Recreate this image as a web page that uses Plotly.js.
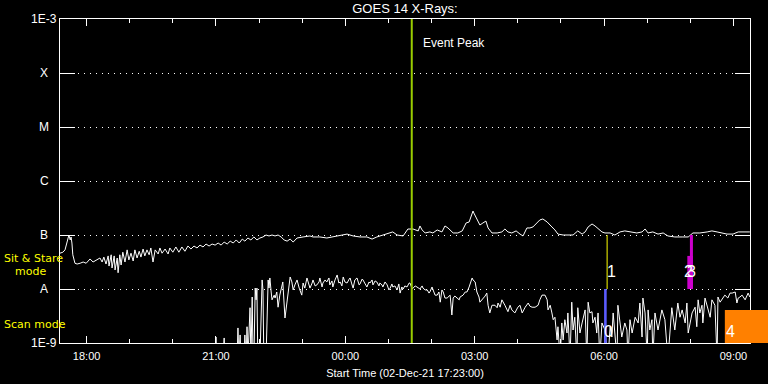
<!DOCTYPE html>
<html>
<head>
<meta charset="utf-8">
<script src="https://cdn.plot.ly/plotly-3.0.1.min.js"></script>
<style>html,body{margin:0;padding:0;background:#000;}#chart{width:768px;height:384px;}</style>
</head>
<body>
<div id="chart"></div>
<script>
// Times are decimal hours counted from 00:00 on 02-Dec-2021 (values > 24 are on 03-Dec)
// Fluxes are in units of 1e-9 W m^-2
const upperHours = [17.38,17.45,17.50,17.54,17.57,17.59,17.62,17.64,17.66,17.68,17.73,17.78,17.85,17.92,17.99,18.08,18.15,18.22,18.31,18.36,18.40,18.45,18.50,18.52,18.57,18.59,18.64,18.66,18.71,18.73,18.77,18.80,18.84,18.89,18.94,18.98,19.03,19.08,19.12,19.17,19.22,19.26,19.31,19.35,19.40,19.45,19.49,19.54,19.59,19.66,19.70,19.75,19.82,19.89,19.93,20.00,20.07,20.14,20.21,20.28,20.35,20.42,20.49,20.56,20.63,20.70,20.77,20.84,20.91,20.98,21.05,21.12,21.19,21.26,21.33,21.40,21.47,21.54,21.61,21.67,21.74,21.81,21.88,21.95,22.02,22.09,22.16,22.23,22.30,22.37,22.44,22.51,22.58,22.65,22.72,22.79,22.88,23.02,23.18,23.25,23.41,23.57,23.71,23.88,24.04,24.18,24.34,24.50,24.62,24.73,24.87,25.04,25.10,25.20,25.34,25.45,25.57,25.69,25.73,25.78,25.85,25.96,26.03,26.13,26.24,26.31,26.38,26.50,26.61,26.71,26.80,26.87,26.96,26.98,27.05,27.12,27.19,27.26,27.31,27.40,27.52,27.63,27.70,27.77,27.86,27.96,28.05,28.12,28.21,28.28,28.35,28.44,28.51,28.58,28.68,28.79,28.86,28.93,29.05,29.28,29.39,29.49,29.56,29.63,29.72,29.79,29.86,29.95,30.02,30.14,30.25,30.37,30.48,30.65,30.76,30.88,30.95,31.02,31.13,31.25,31.37,31.48,31.64,31.81,31.95,32.06,32.22,32.39,32.50,32.62,32.73,32.85,32.99,33.11,33.38];
const upperFlux = [46,48,53,71,96,100,81,92,71,43,30,29,30,31.6,30,36,31.6,34.5,37.5,31.6,39,29,41,26.6,43,24.5,41,22.5,37.5,20,43,27.8,48,31.6,53,34.5,46,33,53,37.5,50,39,55,41,53,43,57.5,31.6,53,44.5,57.5,46,55,44.5,57.5,48,60,48,60,50,62.5,55,62.5,57.5,65,60,68,62.5,68,65,71,65,74,68,77,71,81,71,84,77,88,81,92,81,88,92,100,96,100,96,100,92,81,77,84,74,88,92,96,92,92,88,92,100,104,96,92,92,84,92,100,109,114,100,96,129,129,119,147,124,109,114,109,124,114,147,135,109,109,119,167,174,278,255,190,153,167,181,135,109,109,114,129,114,109,119,104,96,135,135,141,167,190,198,174,141,124,104,100,100,119,104,114,141,160,147,129,114,109,109,100,114,119,114,109,114,129,109,114,104,109,96,92,92,92,109,109,114,119,114,109,104,104,114,114];

const lowerHours = [20.63,20.98,21.00,21.02,21.16,21.19,21.21,21.49,21.51,21.53,21.56,21.58,21.65,21.67,21.70,21.72,21.74,21.77,21.79,21.81,21.84,21.86,21.88,21.91,21.93,21.95,21.97,22.02,22.07,22.09,22.11,22.16,22.21,22.23,22.25,22.28,22.30,22.35,22.37,22.41,22.44,22.48,22.53,22.55,22.60,22.65,22.69,22.72,22.76,22.79,22.83,22.88,22.93,22.95,22.99,23.02,23.06,23.11,23.16,23.18,23.23,23.25,23.30,23.34,23.39,23.41,23.46,23.48,23.53,23.57,23.62,23.64,23.69,23.71,23.76,23.81,23.85,23.88,23.92,23.95,23.99,24.04,24.09,24.11,24.15,24.18,24.22,24.27,24.32,24.34,24.39,24.41,24.46,24.50,24.55,24.57,24.62,24.64,24.69,24.73,24.78,24.80,24.85,24.87,24.92,24.97,25.01,25.04,25.08,25.10,25.15,25.20,25.24,25.27,25.31,25.34,25.38,25.43,25.48,25.50,25.55,25.57,25.62,25.66,25.71,25.73,25.78,25.80,25.85,25.90,25.94,25.96,26.01,26.03,26.08,26.13,26.17,26.20,26.24,26.27,26.31,26.36,26.41,26.43,26.47,26.50,26.54,26.59,26.64,26.66,26.71,26.73,26.78,26.82,26.87,26.89,26.94,26.96,27.01,27.05,27.10,27.12,27.17,27.19,27.24,27.28,27.31,27.35,27.40,27.42,27.47,27.52,27.54,27.59,27.63,27.70,27.77,27.82,27.86,27.93,28.00,28.05,28.10,28.17,28.24,28.28,28.33,28.40,28.47,28.51,28.56,28.63,28.68,28.70,28.75,28.79,28.82,28.86,28.91,28.93,28.98,29.02,29.05,29.09,29.14,29.16,29.21,29.25,29.28,29.32,29.37,29.39,29.44,29.49,29.56,29.60,29.63,29.67,29.72,29.74,29.79,29.83,29.86,29.90,29.95,30.02,30.09,30.14,30.18,30.21,30.25,30.30,30.32,30.37,30.41,30.48,30.53,30.55,30.60,30.65,30.72,30.79,30.83,30.88,30.90,30.95,31.00,31.02,31.06,31.11,31.13,31.18,31.25,31.34,31.41,31.48,31.57,31.64,31.71,31.76,31.81,31.88,31.92,31.95,32.04,32.11,32.15,32.18,32.22,32.27,32.29,32.34,32.41,32.46,32.50,32.57,32.62,32.64,32.69,32.73,32.80,32.87,32.92,32.97,33.04,33.08,33.11,33.15,33.20,33.27,33.34,33.38];
const lowerFlux = [0.5,0.5,1.29,0.5,0.5,1.24,0.5,0.5,1.9,0.5,1.41,0.5,0.5,1.41,0.5,2.0,0.5,2.7,4.5,0.5,7.1,0.5,0.5,10.4,6.3,10.4,0.5,0.5,14.7,9.6,0.5,0.5,14.7,10.4,16.0,8.8,6.3,7.7,6.8,8.8,4.6,7.7,11.9,13.5,2.9,6.8,11.9,16.7,13.5,9.6,11.9,14.7,10.4,9.6,7.7,12.9,10.4,16.0,10.9,10.4,12.9,14.7,11.4,11.9,13.5,16.0,10.9,12.9,14.7,13.5,16.0,11.9,14.1,10.9,14.7,18.2,12.9,13.5,11.4,16.7,13.5,12.9,15.3,16.0,12.4,10.4,14.7,16.0,11.9,12.4,15.3,14.7,12.4,10.9,13.5,12.9,14.7,11.9,14.1,13.5,11.4,12.9,11.9,10.9,13.5,11.9,9.6,10.4,12.4,10.9,11.4,9.6,12.4,8.4,10.9,10.0,11.4,10.9,12.9,12.9,10.0,10.4,11.4,10.9,10.0,10.0,11.4,10.4,9.6,9.6,8.4,8.8,10.9,9.6,7.7,7.7,8.8,5.7,9.6,8.8,6.8,6.8,7.4,7.7,3.3,6.8,7.4,6.8,6.3,7.1,7.7,7.7,8.8,8.8,10.9,11.9,16.0,14.7,13.5,8.8,7.1,5.7,6.3,6.8,7.4,8.4,5.0,3.6,5.0,5.0,5.0,4.5,5.5,4.6,6.3,5.0,3.8,5.0,4.1,3.6,4.6,5.0,3.6,4.6,5.5,4.8,4.6,4.6,5.0,6.3,7.7,7.7,6.3,4.1,5.0,3.6,2.7,3.0,1.14,2.0,0.5,2.35,1.14,2.7,1.53,3.6,0.5,5.7,1.74,3.0,0.5,4.5,1.53,2.35,4.1,0.5,5.7,3.6,3.8,2.35,3.0,1.53,3.6,0.5,2.35,1.74,0.5,2.0,1.29,3.6,1.74,0.5,5.0,2.0,1.29,2.35,1.74,0.5,2.7,1.53,3.0,2.35,5.5,1.29,6.8,3.6,0.5,4.1,1.74,2.7,0.5,3.6,1.74,4.1,2.7,0.5,4.5,1.74,5.5,3.0,4.1,2.35,5.5,1.53,3.6,4.6,2.0,6.3,3.6,5.0,2.35,6.8,4.1,3.0,6.3,5.0,0.5,7.1,5.7,6.3,7.7,6.8,8.4,8.4,8.8,5.5,6.8,7.1,7.7,6.3,8.4,7.1];

// Axis range and ticks
const startHour = 17.3833;   // 17:23
const endHour = 33.3833;     // 09:23 next day
const levelVals = [1e-3, 1e-4, 1e-5, 1e-6, 1e-7, 1e-8, 1e-9];
const levelText = ['1E-3', 'X', 'M', 'C', 'B', 'A', '1E-9'];
const gridVals = [1e-4, 1e-5, 1e-6, 1e-7, 1e-8];

// Event peak
const eventPeakHour = 25.54;

// Event markers
const markerLabel = ['0', '1', '2', '3', '4'];
const markerStart = [30.00, 30.07, 31.93, 31.99, 32.80];
const markerEnd = [30.06, 30.07, 32.06, 32.06, 33.95];
const markerLow = [1e-9, 1e-8, 1e-8, 1e-8, 1e-9];
const markerHigh = [1e-8, 1e-7, 4.1e-8, 1e-7, 4.1e-9];
const markerColor = ['#5c5cff', '#ffff00', '#cc00cc', '#cc00cc', '#ff8000'];
const markerLabelHour = [30.11, 30.18, 31.95, 32.03, 32.94];
const markerLabelFlux = [1.6e-9, 2.07e-8, 2.07e-8, 2.07e-8, 1.6e-9];

const BASE = Date.UTC(2021, 11, 2);
const toMs = h => BASE + h * 3600000;
const FONT = 'Liberation Sans, Arial, sans-serif';
const FONT2 = 'DejaVu Sans, sans-serif';
const x0ms = toMs(startHour), x1ms = toMs(endHour);
const toPaperX = h => (toMs(h) - x0ms) / (x1ms - x0ms);

const traces = [
  {x: upperHours.map(toMs), y: upperFlux.map(v => v * 1e-9), type: 'scatter', mode: 'lines',
   line: {color: '#ffffff', width: 1}, hoverinfo: 'skip'},
  {x: lowerHours.map(toMs), y: lowerFlux.map(v => v * 1e-9), type: 'scatter', mode: 'lines',
   line: {color: '#ffffff', width: 1}, hoverinfo: 'skip'}
];

const shapes = [
  {type: 'line', xref: 'x', yref: 'paper', x0: toMs(eventPeakHour), x1: toMs(eventPeakHour), y0: 0, y1: 1,
   line: {color: '#99cc00', width: 2}, layer: 'above'}
];
markerLabel.forEach((lab, i) => {
  if (markerStart[i] === markerEnd[i]) {
    shapes.push({type: 'line', xref: 'x', yref: 'y', x0: toMs(markerStart[i]), x1: toMs(markerEnd[i]),
      y0: markerLow[i], y1: markerHigh[i], line: {color: markerColor[i], width: 1}, layer: 'above'});
  } else {
    shapes.push({type: 'rect', xref: 'paper', yref: 'y', x0: toPaperX(markerStart[i]), x1: toPaperX(markerEnd[i]),
      y0: markerLow[i], y1: markerHigh[i], fillcolor: markerColor[i], line: {width: 0}, layer: 'above'});
  }
});

const annotations = [];
levelVals.forEach((v, i) => {
  annotations.push({xref: 'paper', yref: 'y', x: 0, xshift: -16, y: Math.log10(v), text: levelText[i],
    showarrow: false, xanchor: 'center', yanchor: 'middle', font: {family: FONT, size: 12, color: '#ffffff'}});
});
annotations.push({xref: 'x', yref: 'paper', x: toMs(eventPeakHour), xshift: 9, y: 0.926, text: 'Event Peak',
  showarrow: false, xanchor: 'left', yanchor: 'middle', font: {family: FONT, size: 12, color: '#ffffff'}});
markerLabel.forEach((lab, i) => {
  annotations.push({xref: 'x', yref: 'y', x: toMs(markerLabelHour[i]), y: Math.log10(markerLabelFlux[i]), text: lab,
    showarrow: false, xanchor: 'center', yanchor: 'middle', font: {family: FONT, size: 16, color: '#ffffff'}});
});
annotations.push({xref: 'paper', yref: 'paper', x: 0, xshift: -58, y: 0.2623, text: 'Sit & Stare',
  showarrow: false, xanchor: 'left', yanchor: 'middle', font: {family: FONT2, size: 11, color: '#ffff00'}});
annotations.push({xref: 'paper', yref: 'paper', x: 0, xshift: -47, y: 0.2192, text: 'mode',
  showarrow: false, xanchor: 'left', yanchor: 'middle', font: {family: FONT2, size: 11, color: '#ffff00'}});
annotations.push({xref: 'paper', yref: 'paper', x: 0, xshift: -58, y: 0.0586, text: 'Scan mode',
  showarrow: false, xanchor: 'left', yanchor: 'middle', font: {family: FONT2, size: 11, color: '#ffff00'}});

const layout = {
  width: 768, height: 384,
  margin: {l: 60, r: 18, t: 19, b: 41, pad: 0},
  paper_bgcolor: '#000000', plot_bgcolor: '#000000',
  showlegend: false,
  font: {family: FONT, color: '#ffffff', size: 11},
  title: {text: 'GOES 14 X-Rays:', font: {family: FONT, size: 13, color: '#ffffff'},
          xref: 'paper', x: 0.5, xanchor: 'center', yref: 'container', y: 0.977, yanchor: 'middle'},
  xaxis: {
    type: 'date', range: [x0ms, x1ms],
    tick0: '2021-12-02 00:00', dtick: 3 * 3600000, tickformat: '%H:%M',
    ticks: 'inside', ticklen: 7, tickwidth: 1, tickcolor: '#ffffff',
    minor: {tick0: '2021-12-02 00:00', dtick: 3600000, ticks: 'inside', ticklen: 4, tickcolor: '#ffffff', showgrid: false},
    showline: true, linecolor: '#ffffff', linewidth: 1, mirror: 'ticks',
    showgrid: false, zeroline: false,
    ticklabelstandoff: 3,
    tickfont: {family: FONT, size: 11, color: '#ffffff'},
    title: {text: 'Start Time (02-Dec-21 17:23:00)', font: {family: FONT, size: 11, color: '#ffffff'}, standoff: 8},
    fixedrange: true
  },
  yaxis: {
    type: 'log', range: [-9, -3],
    tickmode: 'array', tickvals: gridVals, showticklabels: false,
    ticks: 'inside', ticklen: 15, tickwidth: 1, tickcolor: '#ffffff',
    showline: true, linecolor: '#ffffff', linewidth: 1, mirror: 'ticks',
    showgrid: true, gridcolor: '#ffffff', gridwidth: 1, griddash: '1px,5px',
    zeroline: false, fixedrange: true
  },
  shapes: shapes,
  annotations: annotations
};

Plotly.newPlot('chart', traces, layout, {staticPlot: true, displayModeBar: false});
</script>
</body>
</html>
